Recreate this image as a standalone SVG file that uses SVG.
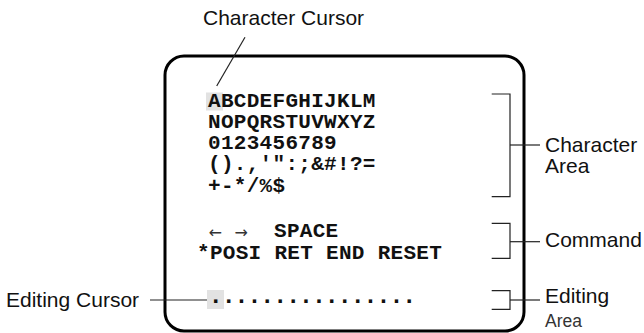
<svg xmlns="http://www.w3.org/2000/svg" width="644" height="333" viewBox="0 0 644 333">
<style>
.lbl{font-family:"Liberation Sans",Arial,sans-serif;font-size:21px;fill:#111}
.mono{font-family:"Liberation Mono","Courier New",monospace;font-size:21px;font-weight:bold;fill:#111;letter-spacing:0.3px}
.dots{font-family:"Liberation Mono","Courier New",monospace;font-size:24px;font-weight:bold;fill:#111;letter-spacing:-1.5px}
.arr{font-family:"DejaVu Sans",sans-serif;font-size:16px;fill:#333}
.ln{stroke:#222;stroke-width:1.2;fill:none}
.hl{fill:#e2e2e2}
</style>
<rect x="0" y="0" width="644" height="333" fill="#fff"/>
<g id="screen">
<rect x="165" y="56" width="359" height="275" rx="19" ry="19" fill="none" stroke="#000" stroke-width="3"/>
</g>
<g id="character-area">
<rect class="hl" x="206" y="92.5" width="17" height="18"/>
<text class="mono" x="208" y="106.5">ABCDEFGHIJKLM</text>
<text class="mono" x="208" y="127.75">NOPQRSTUVWXYZ</text>
<text class="mono" x="208" y="149">0123456789</text>
<text class="mono" x="208" y="170.25">().,'":;&amp;#!?=</text>
<text class="mono" x="208" y="191.5">+-*/%$</text>
</g>
<g id="command-area">
<text class="arr" x="208.5" y="238">←</text>
<text class="arr" x="234.5" y="238">→</text>
<text class="mono" x="274" y="237.3">SPACE</text>
<text class="mono" x="197" y="259.3">*POSI RET END RESET</text>
</g>
<g id="editing-area">
<rect class="hl" x="207" y="290" width="17" height="19"/>
<text class="dots" x="208.5" y="302.5">................</text>
</g>
<g id="labels">
<text class="lbl" x="203" y="25">Character Cursor</text>
<text class="lbl" x="6" y="307">Editing Cursor</text>
<text class="lbl" x="545" y="151.7">Character</text>
<text class="lbl" x="545" y="173.3">Area</text>
<text class="lbl" x="545" y="246.7">Command</text>
<text class="lbl" x="545" y="303.3">Editing</text>
<text class="lbl" x="545" y="326.7" style="font-size:17.5px;fill:#333">Area</text>
</g>
<g id="connectors">
<line class="ln" x1="245" y1="37.3" x2="216.7" y2="86"/>
<line class="ln" x1="150" y1="300" x2="207" y2="300"/>
<polyline class="ln" points="491.7,94 510,94 510,196.7 491.7,196.7"/>
<line class="ln" x1="510" y1="145" x2="540" y2="145"/>
<polyline class="ln" points="491.7,223.3 510,223.3 510,258.3 491.7,258.3"/>
<line class="ln" x1="510" y1="241.7" x2="540" y2="241.7"/>
<polyline class="ln" points="491.7,290.7 510,290.7 510,309.3 491.7,309.3"/>
<line class="ln" x1="510" y1="300" x2="540" y2="300"/>
</g>
</svg>
